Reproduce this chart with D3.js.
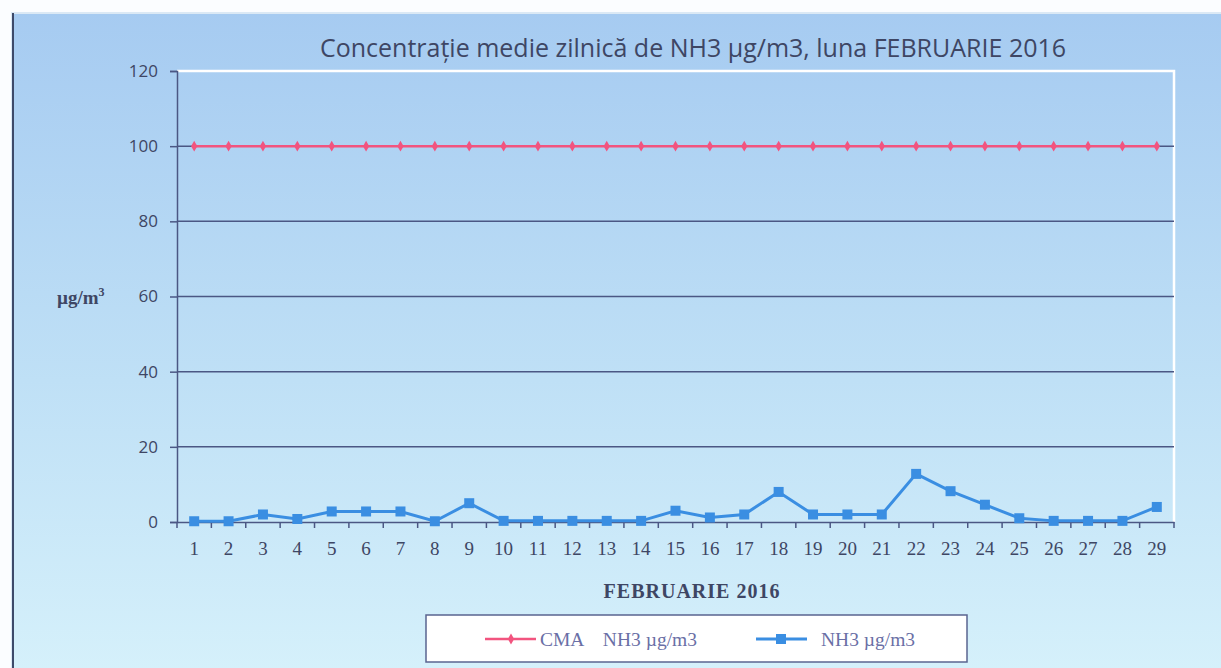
<!DOCTYPE html>
<html>
<head>
<meta charset="utf-8">
<script src="https://cdn.jsdelivr.net/npm/d3@7"></script>
<style>
  body { margin: 0; background: #fbfdff; }
  svg { display: block; }
</style>
</head>
<body>
<div id="chart"></div>
<script>
// data
const days = d3.range(1, 30).map(String);
const cmaValues = days.map(() => 100);
const nh3Values = [0.2, 0.2, 2.0, 0.8, 2.8, 2.8, 2.8, 0.2, 5.0, 0.3,
                   0.3, 0.3, 0.3, 0.3, 3.0, 1.2, 2.0, 8.0, 2.0, 2.0,
                   2.0, 12.8, 8.2, 4.6, 1.0, 0.3, 0.3, 0.3, 4.0];
const yTicks = [0, 20, 40, 60, 80, 100, 120];

const width = 1221, height = 668;
const margin = { top: 71, left: 177, right: 47, bottom: 146 };

const svg = d3.select("#chart").append("svg")
    .attr("width", width)
    .attr("height", height);

/* background gradient of the chart frame */
const grad = svg.append("defs").append("linearGradient")
    .attr("id", "bg").attr("x1", 0).attr("y1", 0).attr("x2", 0).attr("y2", 1);
grad.append("stop").attr("offset", "0%").attr("stop-color", "#a6cbf1");
grad.append("stop").attr("offset", "55%").attr("stop-color", "#bfe0f6");
grad.append("stop").attr("offset", "100%").attr("stop-color", "#d6f1fb");

svg.append("rect")
    .attr("x", 12).attr("y", 13)
    .attr("width", width).attr("height", height)
    .attr("fill", "url(#bg)")
    .attr("stroke", "#dbe9f5").attr("stroke-width", 2);
svg.append("line")
    .attr("x1", 13).attr("x2", 13).attr("y1", 13).attr("y2", height)
    .attr("stroke", "#3d4a6a").attr("stroke-width", 2);

const xScale = d3.scaleBand()
    .domain(days)
    .range([margin.left, width - margin.right]);

const yScale = d3.scaleLinear()
    .domain([0, 120])
    .range([height - margin.bottom, margin.top]);

// plot area, white frame at top and right
svg.append("path")
    .attr("d", `M${margin.left},${margin.top}H${width - margin.right}V${height - margin.bottom}`)
    .attr("fill", "none")
    .attr("stroke", "#ffffff")
    .attr("stroke-width", 2.5);

// gridlines
svg.append("g")
    .selectAll("line")
    .data(yTicks.filter(d => d > 0 && d < 120))
    .join("line")
    .attr("x1", margin.left)
    .attr("x2", width - margin.right)
    .attr("y1", d => yScale(d))
    .attr("y2", d => yScale(d))
    .attr("stroke", "#4b5784")
    .attr("stroke-width", 1.5);

const yAxis = svg.append("g")
    .attr("transform", `translate(${margin.left},0)`)
    .call(d3.axisLeft(yScale).tickValues(yTicks).tickSize(7).tickPadding(12));
yAxis.select(".domain").attr("stroke", "#4b5784").attr("stroke-width", 1.5);
yAxis.selectAll(".tick line").attr("stroke", "#4b5784").attr("stroke-width", 1.5);
yAxis.selectAll("text")
    .attr("fill", "#3e4664")
    .style("font-family", "Open Sans, sans-serif")
    .style("font-size", "17px");

const xAxis = svg.append("g")
    .attr("transform", `translate(0,${height - margin.bottom})`)
    .call(d3.axisBottom(xScale).tickSize(0).tickPadding(20));
xAxis.select(".domain").attr("stroke", "#4b5784").attr("stroke-width", 1.5);
xAxis.selectAll("text")
    .attr("fill", "#3e4664")
    .style("font-family", "Liberation Serif, serif")
    .style("font-size", "19px");

// tick marks between the categories
svg.append("g")
    .selectAll("line")
    .data(days.concat(["end"]))
    .join("line")
    .attr("x1", d => d === "end" ? width - margin.right : xScale(d))
    .attr("x2", d => d === "end" ? width - margin.right : xScale(d))
    .attr("y1", height - margin.bottom)
    .attr("y2", height - margin.bottom + 6)
    .attr("stroke", "#4b5784")
    .attr("stroke-width", 1.5);

const cx = d => xScale(d) + xScale.bandwidth() / 2;

const line = d3.line()
    .x(d => cx(d.day))
    .y(d => yScale(d.v));

const cmaData = days.map((d, i) => ({ day: d, v: cmaValues[i] }));
const nh3Data = days.map((d, i) => ({ day: d, v: nh3Values[i] }));

const pink = "#f2547f", blue = "#3a8ee2";

svg.append("path")
    .datum(cmaData)
    .attr("d", line)
    .attr("fill", "none")
    .attr("stroke", pink)
    .attr("stroke-width", 2.5);

svg.append("g")
    .selectAll("path")
    .data(cmaData)
    .join("path")
    .attr("transform", d => `translate(${cx(d.day)},${yScale(d.v)})`)
    .attr("d", d3.symbol(d3.symbolDiamond, 34))
    .attr("fill", pink);

svg.append("path")
    .datum(nh3Data)
    .attr("d", line)
    .attr("fill", "none")
    .attr("stroke", blue)
    .attr("stroke-width", 3);

svg.append("g")
    .selectAll("rect")
    .data(nh3Data)
    .join("rect")
    .attr("x", d => cx(d.day) - 5)
    .attr("y", d => yScale(d.v) - 5)
    .attr("width", 10)
    .attr("height", 10)
    .attr("fill", blue);

// title
svg.append("text")
    .attr("x", 693)
    .attr("y", 57)
    .attr("text-anchor", "middle")
    .attr("fill", "#3e4664")
    .style("font-family", "Open Sans, sans-serif")
    .style("font-size", "25px")
    .text("Concentrație medie zilnică de NH3 µg/m3, luna FEBRUARIE 2016");

// axis titles
svg.append("text")
    .attr("x", 692)
    .attr("y", 598)
    .attr("text-anchor", "middle")
    .attr("fill", "#3e4664")
    .style("font-family", "Liberation Serif, serif")
    .style("font-weight", "bold")
    .style("font-size", "20px")
    .style("letter-spacing", "1px")
    .text("FEBRUARIE 2016");

const yLab = svg.append("text")
    .attr("x", 57)
    .attr("y", 304)
    .attr("fill", "#3e4664")
    .style("font-family", "Liberation Serif, serif")
    .style("font-weight", "bold")
    .style("font-size", "19px")
    .text("µg/m");
yLab.append("tspan")
    .attr("dy", -8)
    .style("font-size", "12px")
    .text("3");

// legend
const legend = svg.append("g");
legend.append("rect")
    .attr("x", 426).attr("y", 615)
    .attr("width", 541).attr("height", 47)
    .attr("fill", "#ffffff")
    .attr("stroke", "#5a6490")
    .attr("stroke-width", 1.5);

const items = [
  { name: "CMA    NH3 µg/m3", color: pink, x: 485, tx: 540, marker: "diamond" },
  { name: "NH3 µg/m3", color: blue, x: 756, tx: 821, marker: "square" }
];
items.forEach(it => {
  legend.append("line")
      .attr("x1", it.x).attr("x2", it.x + 51)
      .attr("y1", 639).attr("y2", 639)
      .attr("stroke", it.color)
      .attr("stroke-width", it.marker === "square" ? 3 : 2.5);
  if (it.marker === "square") {
    legend.append("rect")
        .attr("x", it.x + 20).attr("y", 634)
        .attr("width", 10).attr("height", 10)
        .attr("fill", it.color);
  } else {
    legend.append("path")
        .attr("transform", `translate(${it.x + 26},639)`)
        .attr("d", d3.symbol(d3.symbolDiamond, 34))
        .attr("fill", it.color);
  }
  legend.append("text")
      .attr("x", it.tx).attr("y", 646)
      .attr("fill", "#6a6fa6")
      .attr("xml:space", "preserve")
      .style("white-space", "pre")
      .style("font-family", "Liberation Serif, serif")
      .style("font-size", "19.5px")
      .text(it.name);
});
</script>
</body>
</html>
